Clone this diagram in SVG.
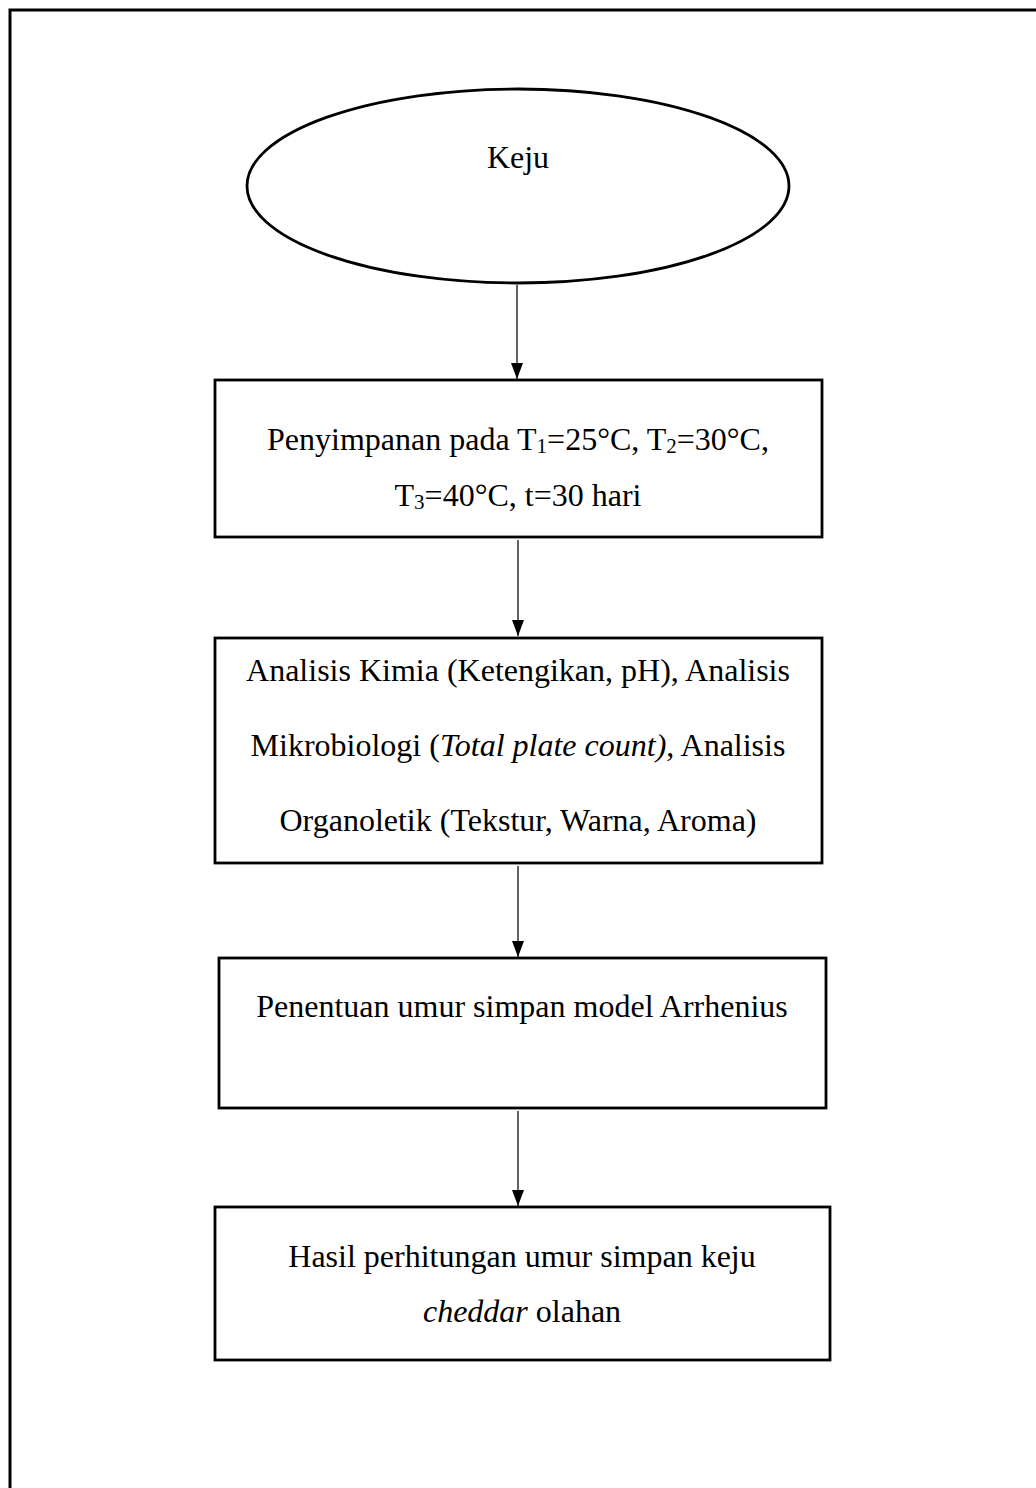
<svg xmlns="http://www.w3.org/2000/svg" width="1036" height="1488" viewBox="0 0 1036 1488">
<style>
.t{font-family:"Liberation Serif","Times New Roman",serif;font-size:32px;fill:#000;text-anchor:middle}
.s{font-size:21px}
.box{fill:#fff;stroke:#000;stroke-width:2.8}
.c{stroke:#222;stroke-width:1.4;fill:none}
</style>
<defs>
<marker id="ah" viewBox="0 0 16 12" refX="16" refY="6" markerWidth="16" markerHeight="12" markerUnits="userSpaceOnUse" orient="auto">
<path d="M0,0 L16,6 L0,12 Z" fill="#000"/>
</marker>
</defs>
<rect width="1036" height="1488" fill="#fff"/>
<rect id="frame" x="10" y="10" width="1040" height="1500" fill="none" stroke="#000" stroke-width="3"/>
<g id="connectors">
<line class="c" x1="517" y1="285" x2="517" y2="379" marker-end="url(#ah)"/>
<line class="c" x1="518" y1="540" x2="518" y2="636" marker-end="url(#ah)"/>
<line class="c" x1="518" y1="866" x2="518" y2="957" marker-end="url(#ah)"/>
<line class="c" x1="518" y1="1111" x2="518" y2="1206" marker-end="url(#ah)"/>
</g>
<g id="n1">
<ellipse class="box" cx="518" cy="186" rx="271" ry="97"/>
<text class="t" x="518" y="168">Keju</text>
</g>
<g id="n2">
<rect class="box" x="215" y="380" width="607" height="157"/>
<text class="t" x="518" y="450">Penyimpanan pada T<tspan class="s" dy="3">1</tspan><tspan dy="-3">=25°C, T</tspan><tspan class="s" dy="3">2</tspan><tspan dy="-3">=30°C,</tspan></text>
<text class="t" x="518" y="506">T<tspan class="s" dy="3">3</tspan><tspan dy="-3">=40°C, t=30 hari</tspan></text>
</g>
<g id="n3">
<rect class="box" x="215" y="638" width="607" height="225"/>
<text class="t" x="518" y="681">Analisis Kimia (Ketengikan, pH), Analisis</text>
<text class="t" x="518" y="756">Mikrobiologi (<tspan font-style="italic">Total plate count)</tspan>, Analisis</text>
<text class="t" x="518" y="831">Organoletik (Tekstur, Warna, Aroma)</text>
</g>
<g id="n4">
<rect class="box" x="219" y="958" width="607" height="150"/>
<text class="t" x="522" y="1017">Penentuan umur simpan model Arrhenius</text>
</g>
<g id="n5">
<rect class="box" x="215" y="1207" width="615" height="153"/>
<text class="t" x="522" y="1267">Hasil perhitungan umur simpan keju</text>
<text class="t" x="522" y="1322"><tspan font-style="italic">cheddar</tspan> olahan</text>
</g>
</svg>
